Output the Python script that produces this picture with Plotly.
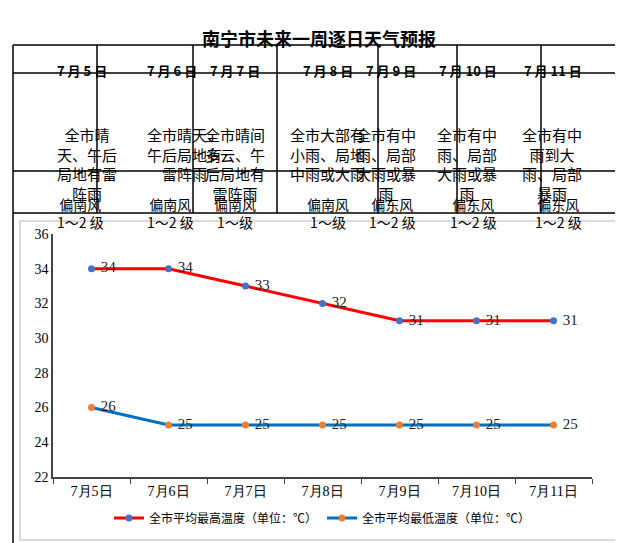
import plotly.graph_objects as go

dates = ["7月5日", "7月6日", "7月7日", "7月8日", "7月9日", "7月10日", "7月11日"]
head = ["7 月 5 日", "7 月 6 日", "7 月 7 日", "7 月 8 日", "7 月 9 日", "7 月 10 日", "7 月 11 日"]
weather = ["全市晴<br>天、午后<br>局地有雷<br>阵雨", "全市晴天、<br>午后局地有<br>雷阵雨", "全市晴间<br>多云、午<br>后局地有<br>雷阵雨",
           "全市大部有<br>小雨、局地<br>中雨或大雨", "全市有中<br>雨、局部<br>大雨或暴<br>雨", "全市有中<br>雨、局部<br>大雨或暴<br>雨", "全市有中<br>雨到大<br>雨、局部<br>暴雨"]
wind = ["偏南风<br>1～2 级", "偏南风<br>1～2 级", "偏南风<br>1～级", "偏南风<br>1～级", "偏东风<br>1～2 级", "偏东风<br>1～2 级", "偏东风<br>1～2 级"]
tmax = [34, 34, 33, 32, 31, 31, 31]
tmin = [26, 25, 25, 25, 25, 25, 25]

W, H = 623, 543
L, R, T, B = 45, 584, 226, 469
def px(x): return (x - L) / (R - L)
def py(y): return (B - y) / (B - T)

F = "Noto Sans CJK SC"
fig = go.Figure()
fig.add_trace(go.Scatter(x=dates, y=tmax, mode="lines+markers+text", text=[" " + str(v) for v in tmax],
    textposition="middle right", textfont=dict(size=15, color="#222", family="Liberation Serif"),
    line=dict(color="#ff0000", width=3), marker=dict(color="#4472c4", size=7),
    name="全市平均最高温度（单位：℃）"))
fig.add_trace(go.Scatter(x=dates, y=tmin, mode="lines+markers+text", text=[" " + str(v) for v in tmin],
    textposition="middle right", textfont=dict(size=15, color="#222", family="Liberation Serif"),
    line=dict(color="#0070c0", width=3), marker=dict(color="#ed7d31", size=7),
    name="全市平均最低温度（单位：℃）"))

shapes = []
def line(x0, y0, x1, y1, color="black", w=1.5):
    shapes.append(dict(type="line", xref="paper", yref="paper", x0=px(x0), y0=py(y0), x1=px(x1), y1=py(y1),
                       line=dict(color=color, width=w)))
cols = [5, 89, 185, 269, 370, 449, 533, 618]
rows = [37, 65, 163, 205]
for c in cols:
    line(c, 37, c, 205)
for r in rows:
    line(5, r, 618, r)
line(5, 205, 5, 538); line(618, 205, 618, 538); line(5, 538, 618, 538)
shapes.append(dict(type="rect", xref="paper", yref="paper", x0=px(12), y0=py(213), x1=px(611), y1=py(532),
                   line=dict(color="#d0d0d0", width=1.5)))

ann = [dict(text="<b>南宁市未来一周逐日天气预报</b>", x=px(311), y=py(15), xref="paper", yref="paper",
            showarrow=False, font=dict(size=18, family=F, color="black"))]
for i in range(7):
    cx = (cols[i] + cols[i + 1]) / 2
    ann.append(dict(text="<b>" + head[i] + "</b>", x=px(cx), y=py(51), xref="paper", yref="paper",
                    showarrow=False, font=dict(size=13, family=F, color="black")))
    ann.append(dict(text=weather[i], x=px(cx), y=py(114), xref="paper", yref="paper", showarrow=False,
                    font=dict(size=15, family=F, color="black")))
    ann.append(dict(text=wind[i], x=px(cx), y=py(184), xref="paper", yref="paper", showarrow=False,
                    font=dict(size=14, family=F, color="black")))

fig.update_layout(width=W, height=H, margin=dict(l=L, r=W - R, t=T, b=H - B, autoexpand=False),
    plot_bgcolor="white", paper_bgcolor="white", shapes=shapes, annotations=ann,
    showlegend=True,
    legend=dict(orientation="h", x=0.5, xanchor="center", y=py(510), yanchor="middle",
                font=dict(size=12, family=F, color="black"), bgcolor="rgba(0,0,0,0)"),
    xaxis=dict(range=[-0.5, 6.5], showline=True, linecolor="#444", linewidth=1.5, ticks="outside",
               tickcolor="#444", tickfont=dict(size=14, family="Liberation Serif", color="black"),
               showgrid=False, zeroline=False, tickson="boundaries", ticklen=5),
    yaxis=dict(range=[22, 36], dtick=2, showline=True, linecolor="#444", linewidth=1.5,
               tickfont=dict(size=14, family="Liberation Serif", color="black"), showgrid=False,
               zeroline=False),
    font=dict(family=F))
fig.write_html("out.html")
